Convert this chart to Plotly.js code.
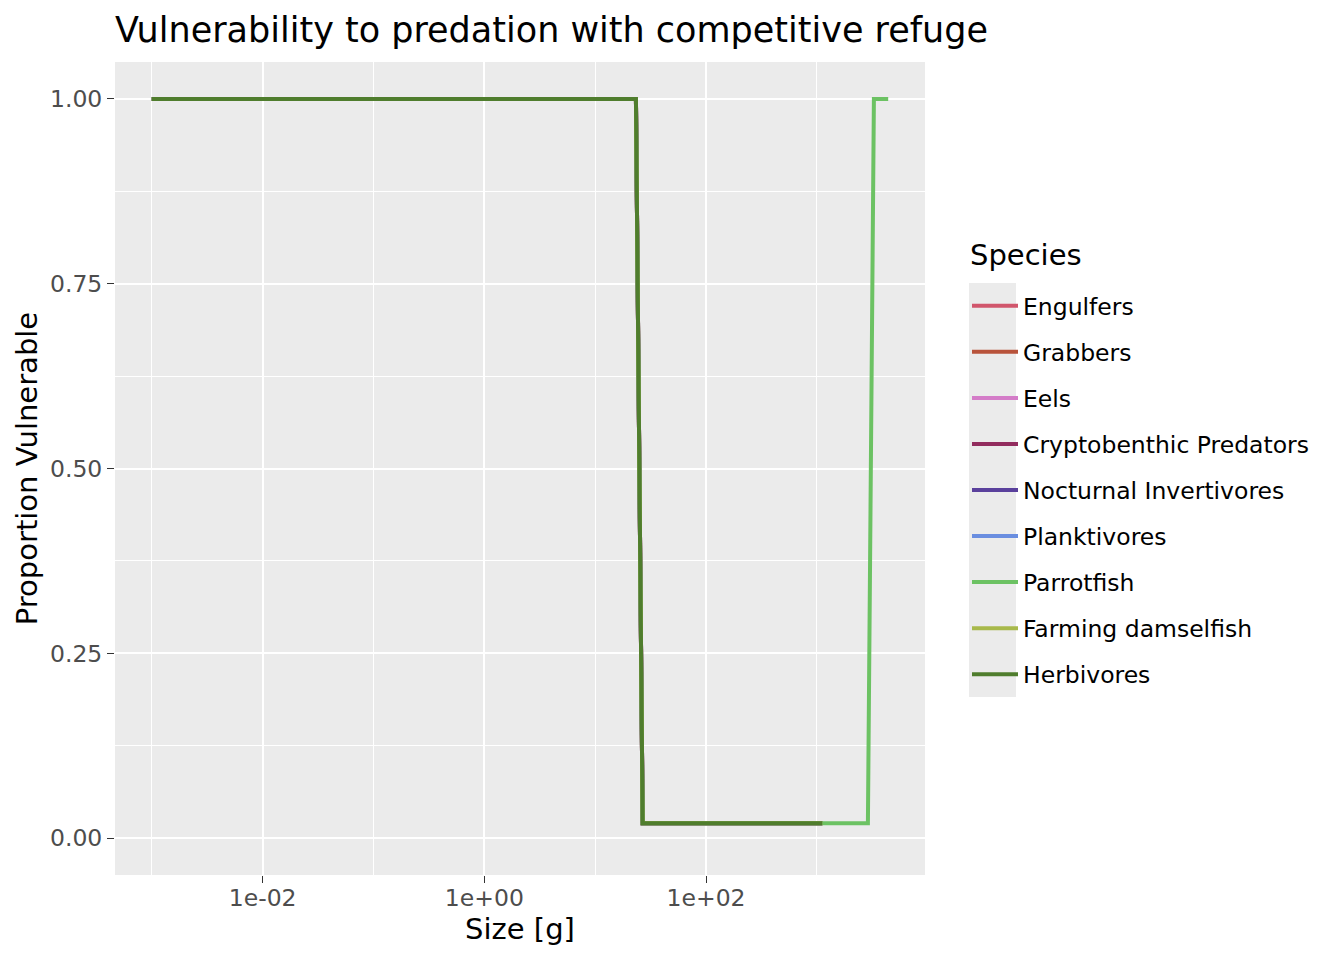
<!DOCTYPE html>
<html>
<head>
<meta charset="utf-8">
<script src="https://cdn.plot.ly/plotly-3.0.1.min.js"></script>
<style>
  html, body { margin: 0; padding: 0; background: #ffffff; }
  #graphDiv { width: 1344px; height: 960px; }
</style>
</head>
<body>
<div id="graphDiv"></div>
<script>
// species and their colours (legend order)
const species = ["Engulfers", "Grabbers", "Eels", "Cryptobenthic Predators",
                 "Nocturnal Invertivores", "Planktivores", "Parrotfish",
                 "Farming damselfish", "Herbivores"];
const speciesColours = ["#D1566C", "#B8533B", "#D47CC8", "#922C5E",
                        "#5A409C", "#6A8EE0", "#6CC263", "#A8B94B", "#4F7D2D"];

const sizeShared = [0.001, 23.3, 26.8, 1117];
const vulnShared = [1, 1, 0.02, 0.02];
const sizeParrotfish = [0.001, 23.3, 26.8, 2884, 3266, 4395];
const vulnParrotfish = [1, 1, 0.02, 0.02, 1, 1];

// axis ticks
const xTickVals = [0.01, 1, 100];
const xTickText = ["1e-02", "1e+00", "1e+02"];
const xMinorVals = [0.001, 0.1, 10, 1000];
const yTickVals = [0, 0.25, 0.5, 0.75, 1];
const yTickText = ["0.00", "0.25", "0.50", "0.75", "1.00"];
const yMinorVals = [0.125, 0.375, 0.625, 0.875];

function build_traces() {
    return species.map((name, i) => {
        const isParrot = name === "Parrotfish";
        return {
            x: isParrot ? sizeParrotfish : sizeShared,
            y: isParrot ? vulnParrotfish : vulnShared,
            name: name,
            legendgroup: name,
            mode: "lines",
            type: "scatter",
            line: { color: speciesColours[i], width: 4 },
            hoverinfo: "x+y+name"
        };
    });
}

// plot panel in px
const panelL = 115, panelR = 925, panelT = 62, panelB = 875;
const W = 1344, H = 960;
function px2x(px) { return (px - panelL) / (panelR - panelL); }
function px2y(py) { return (panelB - py) / (panelB - panelT); }

const layout = {
    width: W,
    height: H,
    margin: { l: panelL, r: W - panelR, t: panelT, b: H - panelB, pad: 0 },
    paper_bgcolor: "#ffffff",
    plot_bgcolor: "#EBEBEB",
    font: { family: "DejaVu Sans", size: 23.5, color: "#000000" },
    title: {
        text: "Vulnerability to predation with competitive refuge",
        font: { family: "DejaVu Sans", size: 35, color: "#000000" },
        x: 0, xref: "paper", xanchor: "left",
        y: 1 - 30 / H, yref: "container", yanchor: "middle"
    },
    xaxis: {
        type: "log",
        range: [-3.332, 3.975],
        tickmode: "array",
        tickvals: xTickVals,
        ticktext: xTickText,
        ticks: "outside",
        ticklen: 7,
        tickwidth: 1.4,
        tickcolor: "#333333",
        ticklabelstandoff: -5,
        tickfont: { family: "DejaVu Sans", size: 23.5, color: "#4D4D4D" },
        showgrid: true,
        gridcolor: "#ffffff",
        gridwidth: 2.2,
        minor: { tickmode: "array", tickvals: xMinorVals, showgrid: true,
                 gridcolor: "#ffffff", gridwidth: 1.1, ticks: "" },
        zeroline: false,
        showline: false,
        title: { text: "Size [g]", font: { family: "DejaVu Sans", size: 29, color: "#000000" }, standoff: 3 }
    },
    yaxis: {
        range: [-0.05, 1.05],
        tickmode: "array",
        tickvals: yTickVals,
        ticktext: yTickText,
        ticks: "outside",
        ticklen: 7,
        tickwidth: 1.4,
        tickcolor: "#333333",
        tickfont: { family: "DejaVu Sans", size: 23.5, color: "#4D4D4D" },
        showgrid: true,
        gridcolor: "#ffffff",
        gridwidth: 2.2,
        minor: { tickmode: "array", tickvals: yMinorVals, showgrid: true,
                 gridcolor: "#ffffff", gridwidth: 1.1, ticks: "" },
        zeroline: false,
        showline: false,
        title: { text: "Proportion Vulnerable", font: { family: "DejaVu Sans", size: 29, color: "#000000" }, standoff: 3 }
    },
    legend: {
        x: px2x(967), xanchor: "left",
        y: px2y(284), yanchor: "top",
        bgcolor: "rgba(0,0,0,0)",
        borderwidth: 0,
        itemwidth: 46,
        tracegroupgap: 12.5,
        font: { family: "DejaVu Sans", size: 23.5, color: "#000000" }
    },
    annotations: [{
        text: "Species", xref: "paper", yref: "paper",
        x: px2x(968), xanchor: "left", y: px2y(255), yanchor: "middle",
        showarrow: false,
        font: { family: "DejaVu Sans", size: 29, color: "#000000" }
    }],
    shapes: [{
        type: "rect", xref: "paper", yref: "paper", layer: "below",
        x0: px2x(969), x1: px2x(1016), y0: px2y(697), y1: px2y(283),
        fillcolor: "#EBEBEB", line: { width: 0 }
    }],
    showlegend: true
};

Plotly.newPlot("graphDiv", build_traces(), layout, { displayModeBar: false, responsive: false });
</script>
</body>
</html>
